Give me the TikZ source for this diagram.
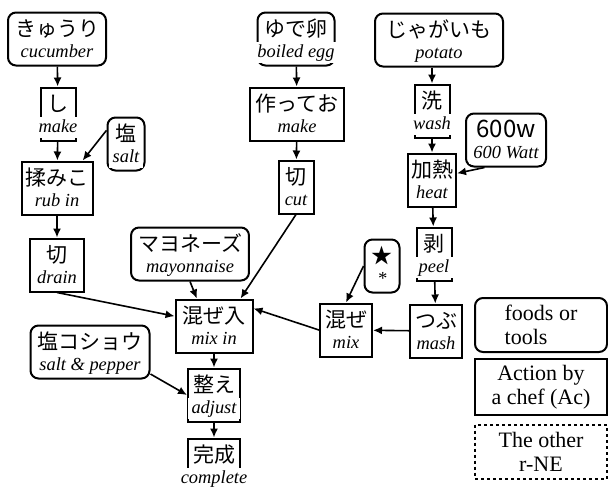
\documentclass[tikz,border=0pt]{standalone}
\usepackage{fontspec}
\setmainfont{Liberation Serif}
\newfontfamily\jpfont{Noto Sans CJK JP}
\usetikzlibrary{positioning,arrows.meta}

\begin{document}
\begin{tikzpicture}[x=0.5pt,y=-0.5pt,
	jpbox/.style={font=\jpfont\fontsize{10.5}{12}\selectfont, inner xsep=3.5pt, inner ysep=3pt, text height=9pt, text depth=11.5pt, line width=1pt},
	food/.style={jpbox, draw, rounded corners=4pt},
	act/.style={jpbox, draw},
	en/.style={font=\fontsize{9.2}{10}\selectfont\itshape, fill=white, inner xsep=2pt, inner ysep=1pt, text height=6.5pt, text depth=2pt},
	flow/.style={-{Latex[length=4.5pt,width=4pt]}, line width=0.8pt},
	legend/.style={draw, line width=1pt, font=\fontsize{11}{12}\selectfont, minimum width=66pt, minimum height=27pt, inner sep=2pt}]
	\useasboundingbox (0,0) rectangle (608,488);
	% cucumber column
	\node[food] (cuc) at (57,39) {きゅうり};
	\node[act] (shi) at (58,114) {し};
	\node[food, minimum width=18.5pt] (salt) at (126,144) {塩};
	\node[act, inner xsep=2pt] (rub) at (57,188) {揉みこ};
	\node[act, minimum width=27pt] (drain) at (57,265) {切};
	\node[food] (saltpep) at (90,352) {塩コショウ};
	% middle
	\node[food] (mayo) at (190,254) {マヨネーズ};
	\node[act] (mixin) at (214,326) {混ぜ入};
	\node[act, inner xsep=2.5pt] (adjust) at (214,395) {整え};
	\node[act, inner xsep=2.5pt] (comp) at (214,465) {完成};
	\node[food] (egg) at (296,39) {ゆで卵};
	\node[act, inner xsep=3pt] (make2) at (297,114) {作ってお};
	\node[act] (cut) at (296,187) {切};
	% potato column
	\node[food, minimum width=64pt] (potato) at (439,40) {じゃがいも};
	\node[act] (wash) at (432,111) {洗};
	\node[food, minimum width=40pt, font=\jpfont\fontsize{12}{12}\selectfont] (watt) at (506,140) {600w};
	\node[act, inner xsep=1.5pt] (heat) at (432,180) {加熱};
	\node[act] (peel) at (434,254) {剥};
	\node[act, inner xsep=2.5pt] (mash) at (436,331) {つぶ};
	\node[act, inner xsep=2.5pt] (mix) at (346,330) {混ぜ};
	\node[food] (star) at (382,266) {★};
	% english lines
	\node[en, above=1.5pt of cuc.south] (cuc-en) {cucumber};
	\node[en, above=1.5pt of shi.south] (shi-en) {make};
	\node[en, above=1.5pt of salt.south] (salt-en) {salt};
	\node[en, above=1.5pt of rub.south] (rub-en) {rub in};
	\node[en, above=1.5pt of drain.south] (drain-en) {drain};
	\node[en, above=1.5pt of saltpep.south] (saltpep-en) {salt \& pepper};
	\node[en, above=1.5pt of mayo.south] (mayo-en) {mayonnaise};
	\node[en, above=1.5pt of mixin.south] (mixin-en) {mix in};
	\node[en, above=1.5pt of adjust.south] (adjust-en) {adjust};
	\node[en, above=1.5pt of comp.south] (comp-en) {complete};
	\node[en, above=1.5pt of egg.south] (egg-en) {boiled egg};
	\node[en, above=1.5pt of make2.south] (make2-en) {make};
	\node[en, above=1.5pt of cut.south] (cut-en) {cut};
	\node[en, above=1.5pt of potato.south] (potato-en) {potato};
	\node[en, above=1.5pt of wash.south] (wash-en) {wash};
	\node[en, above=1.5pt of watt.south] (watt-en) {600 Watt};
	\node[en, above=1.5pt of heat.south] (heat-en) {heat};
	\node[en, above=1.5pt of peel.south] (peel-en) {peel};
	\node[en, above=1.5pt of mash.south] (mash-en) {mash};
	\node[en, above=1.5pt of mix.south] (mix-en) {mix};
	\node[en, above=1.5pt of star.south] (star-en) {*};
	% flows
	\draw[flow] (cuc) -- (shi);
	\draw[flow] (shi) -- (rub);
	\draw[flow] (salt.145) -- (rub.47);
	\draw[flow] (rub) -- (drain);
	\draw[flow] (drain.south) -- (mixin.166);
	\draw[flow] (mayo.south) -- (mixin.122);
	\draw[flow] (egg) -- (make2);
	\draw[flow] (make2) -- (cut);
	\draw[flow] (cut.south) -- (mixin.46);
	\draw[flow] (potato.south -| wash.north) -- (wash.north);
	\draw[flow] (wash) -- (heat);
	\draw[flow] (watt.232) -- (heat.15);
	\draw[flow] (heat) -- (peel);
	\draw[flow] (peel) -- (mash);
	\draw[flow] (mash) -- (mix);
	\draw[flow] (star.west) -- (mix.north);
	\draw[flow] (mix.west) -- (mixin.24);
	\draw[flow] (mixin) -- (adjust);
	\draw[flow] (saltpep.-20) -- (adjust.west);
	\draw[flow] (adjust) -- (comp);
	% legend
	\node[legend, rounded corners=4pt, align=left] (lg-food) at (541,325) {foods or\\tools};
	\node[legend, align=center, minimum height=28pt] (lg-act) at (541,387) {Action by\\a chef (Ac)};
	\node[legend, align=center, dash pattern=on 1.5pt off 1.5pt] (lg-other) at (541,451.5) {The other\\r-NE};
\end{tikzpicture}
\end{document}
